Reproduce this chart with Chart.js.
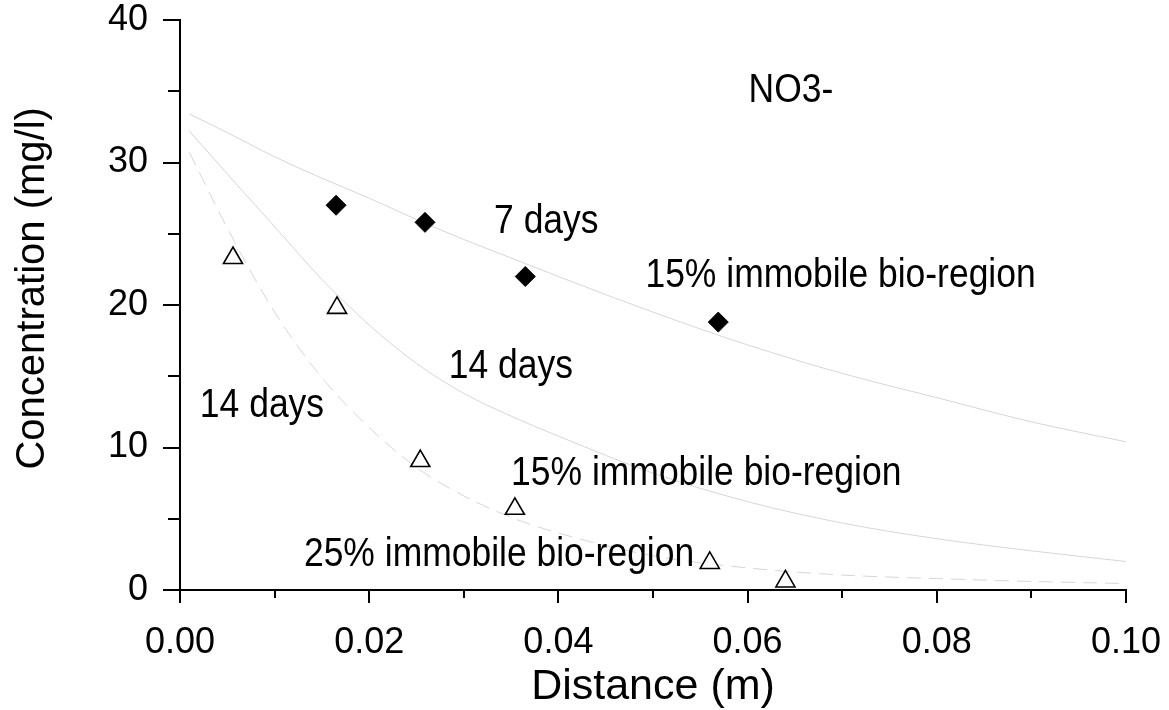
<!DOCTYPE html>
<html>
<head>
<meta charset="utf-8">
<script src="https://cdn.jsdelivr.net/npm/chart.js@4.4.0/dist/chart.umd.min.js"></script>
<style>
  html, body { margin: 0; padding: 0; background: #ffffff; }
  #wrap { width: 1169px; height: 710px; position: relative; }
</style>
</head>
<body>
<div id="wrap"><canvas id="c"></canvas></div>
<script>
// ---------------- DATA ----------------
// Observed NO3- concentration, 7 days (filled diamonds)
const obs7dX = [0.0165, 0.0259, 0.0365, 0.0569];
const obs7dY = [27.0, 25.8, 22.0, 18.8];

// Observed NO3- concentration, 14 days (open triangles)
const obs14dX = [0.0056, 0.0166, 0.0254, 0.0354, 0.0560, 0.0640];
const obs14dY = [23.3, 19.8, 9.05, 5.7, 1.9, 0.6];

// Model curves (distance in m)
const curveX      = [0.001, 0.005, 0.010, 0.015, 0.020, 0.025, 0.030, 0.035, 0.040, 0.050, 0.060, 0.070, 0.080, 0.090, 0.100];
const model7d15   = [33.4, 32.1, 30.4, 28.9, 27.5, 26.0, 24.6, 23.3, 22.0, 19.5, 17.2, 15.2, 13.5, 11.8, 10.4];
const model14d15  = [32.2, 29.2, 25.5, 21.8, 18.6, 15.9, 13.8, 12.2, 10.8, 8.2, 6.2, 4.7, 3.6, 2.75, 2.0];
const model14d25  = [30.7, 25.4, 19.5, 14.9, 11.4, 8.6, 6.6, 5.1, 4.0, 2.4, 1.55, 1.05, 0.8, 0.6, 0.45];

// Axis ranges / tick steps
const xRange = [0, 0.10];
const yRange = [0, 40];
const xTickStep = 0.01;
const yTickStep = 5;

// Text labels
const labelTexts = ['NO3-', '7 days', '15% immobile bio-region', '14 days', '14 days', '15% immobile bio-region', '25% immobile bio-region'];
const xTitle = 'Distance (m)';
const yTitle = 'Concentration (mg/l)';

// ---------------- DRAWING ----------------
const pts = (xs, ys) => xs.map((x, i) => ({ x: x, y: ys[i] }));

// Label anchors (data coordinates, left/baseline) — layout, not data
const labelAnchors = [
  [0.0601, 34.25], [0.0332, 25.05], [0.0492, 21.28],
  [0.0284, 14.88], [0.0021, 12.14], [0.0350, 7.37], [0.0131, 1.68]
];

const FONT = "'Liberation Sans', Arial, 'DejaVu Sans', sans-serif";

const annotationPlugin = {
  id: 'annot',
  afterDatasetsDraw(chart) {
    const ctx = chart.ctx;
    const xs = chart.scales.x, ys = chart.scales.y;
    ctx.save();
    ctx.fillStyle = '#000';
    ctx.font = '36px ' + FONT;
    ctx.textBaseline = 'alphabetic';
    ctx.textAlign = 'left';
    labelTexts.forEach((t, i) => {
      const px = xs.getPixelForValue(labelAnchors[i][0]);
      const py = ys.getPixelForValue(labelAnchors[i][1]);
      ctx.save();
      ctx.translate(px, py);
      ctx.scale(0.985, 1.12);
      ctx.fillText(t, 0, 0);
      ctx.restore();
    });
    ctx.restore();
  }
};

const tickPlugin = {
  id: 'tickmarks',
  afterDraw(chart) {
    const ctx = chart.ctx;
    const xs = chart.scales.x, ys = chart.scales.y;
    const area = chart.chartArea;
    ctx.save();
    ctx.strokeStyle = '#000';
    ctx.lineWidth = 2;
    ctx.beginPath();
    ys.ticks.forEach(t => {
      const p = Math.round(ys.getPixelForValue(t.value));
      const major = Math.round(t.value) % 10 === 0;
      const len = major ? 17 : 12;
      ctx.moveTo(area.left - len, p);
      ctx.lineTo(area.left, p);
    });
    xs.ticks.forEach(t => {
      const p = Math.round(xs.getPixelForValue(t.value));
      const major = Math.round(t.value * 100) % 2 === 0;
      const len = major ? 13 : 8;
      ctx.moveTo(p, area.bottom);
      ctx.lineTo(p, area.bottom + len);
    });
    ctx.stroke();
    ctx.restore();
  }
};

const lineStyle = {
  type: 'line',
  borderColor: '#d6d6d6',
  borderWidth: 1,
  pointRadius: 0,
  fill: false,
  cubicInterpolationMode: 'monotone',
  showLine: true
};

new Chart(document.getElementById('c'), {
  type: 'scatter',
  data: {
    datasets: [
      {
        label: '7 days observed',
        data: pts(obs7dX, obs7dY),
        pointStyle: 'rectRot',
        pointRadius: 10,
        backgroundColor: '#000',
        borderColor: '#000',
        borderWidth: 1,
        order: 0
      },
      {
        label: '14 days observed',
        data: pts(obs14dX, obs14dY),
        pointStyle: 'triangle',
        pointRadius: 11,
        backgroundColor: '#fff',
        borderColor: '#000',
        borderWidth: 1.6,
        order: 0
      },
      Object.assign({ label: '7 days, 15% immobile', data: pts(curveX, model7d15), order: 1 }, lineStyle),
      Object.assign({ label: '14 days, 15% immobile', data: pts(curveX, model14d15), order: 1 }, lineStyle),
      Object.assign({ label: '14 days, 25% immobile', data: pts(curveX, model14d25), borderDash: [14, 8], order: 1 }, lineStyle)
    ]
  },
  options: {
    responsive: true,
    maintainAspectRatio: false,
    animation: false,
    events: [],
    layout: { padding: { top: 20, right: 43, left: 0, bottom: 0 } },
    plugins: {
      legend: { display: false },
      tooltip: { enabled: false },
      title: { display: false }
    },
    scales: {
      x: {
        type: 'linear',
        min: xRange[0], max: xRange[1],
        afterFit(s) { s.height = 120; s.paddingLeft = 0; s.paddingRight = 0; },
        afterBuildTicks(s) {
          const t = [];
          for (let i = 0; i <= 10; i++) t.push({ value: +(xRange[0] + i * xTickStep).toFixed(3) });
          s.ticks = t;
        },
        ticks: {
          autoSkip: false,
          maxRotation: 0,
          padding: 18,
          color: '#000',
          font: { family: FONT, size: 36 },
          callback: (v) => (Math.round(v * 100) % 2 === 0 ? v.toFixed(2) : '')
        },
        grid: { display: true, drawOnChartArea: false, drawTicks: true, tickLength: 13, color: 'rgba(0,0,0,0)' },
        border: { display: true, color: '#000', width: 2 },
        title: { display: true, text: xTitle, color: '#000', font: { family: FONT, size: 43 }, padding: { top: 0, bottom: -3 } }
      },
      y: {
        type: 'linear',
        min: yRange[0], max: yRange[1],
        afterFit(s) { s.width = 180; s.paddingTop = 0; s.paddingBottom = 0; },
        afterBuildTicks(s) {
          const t = [];
          for (let v = yRange[0]; v <= yRange[1]; v += yTickStep) t.push({ value: v });
          s.ticks = t;
        },
        ticks: {
          autoSkip: false,
          padding: 15,
          color: '#000',
          font: { family: FONT, size: 36 },
          callback: (v) => (v % 10 === 0 ? String(v) : '')
        },
        grid: { display: true, drawOnChartArea: false, drawTicks: true, tickLength: 17, color: 'rgba(0,0,0,0)' },
        border: { display: true, color: '#000', width: 2 },
        title: { display: true, text: '\u00A0\u00A0\u00A0' + yTitle, color: '#000', font: { family: FONT, size: 40 }, padding: { top: 9, bottom: 0 } }
      }
    }
  },
  plugins: [annotationPlugin, tickPlugin]
});
</script>
</body>
</html>
